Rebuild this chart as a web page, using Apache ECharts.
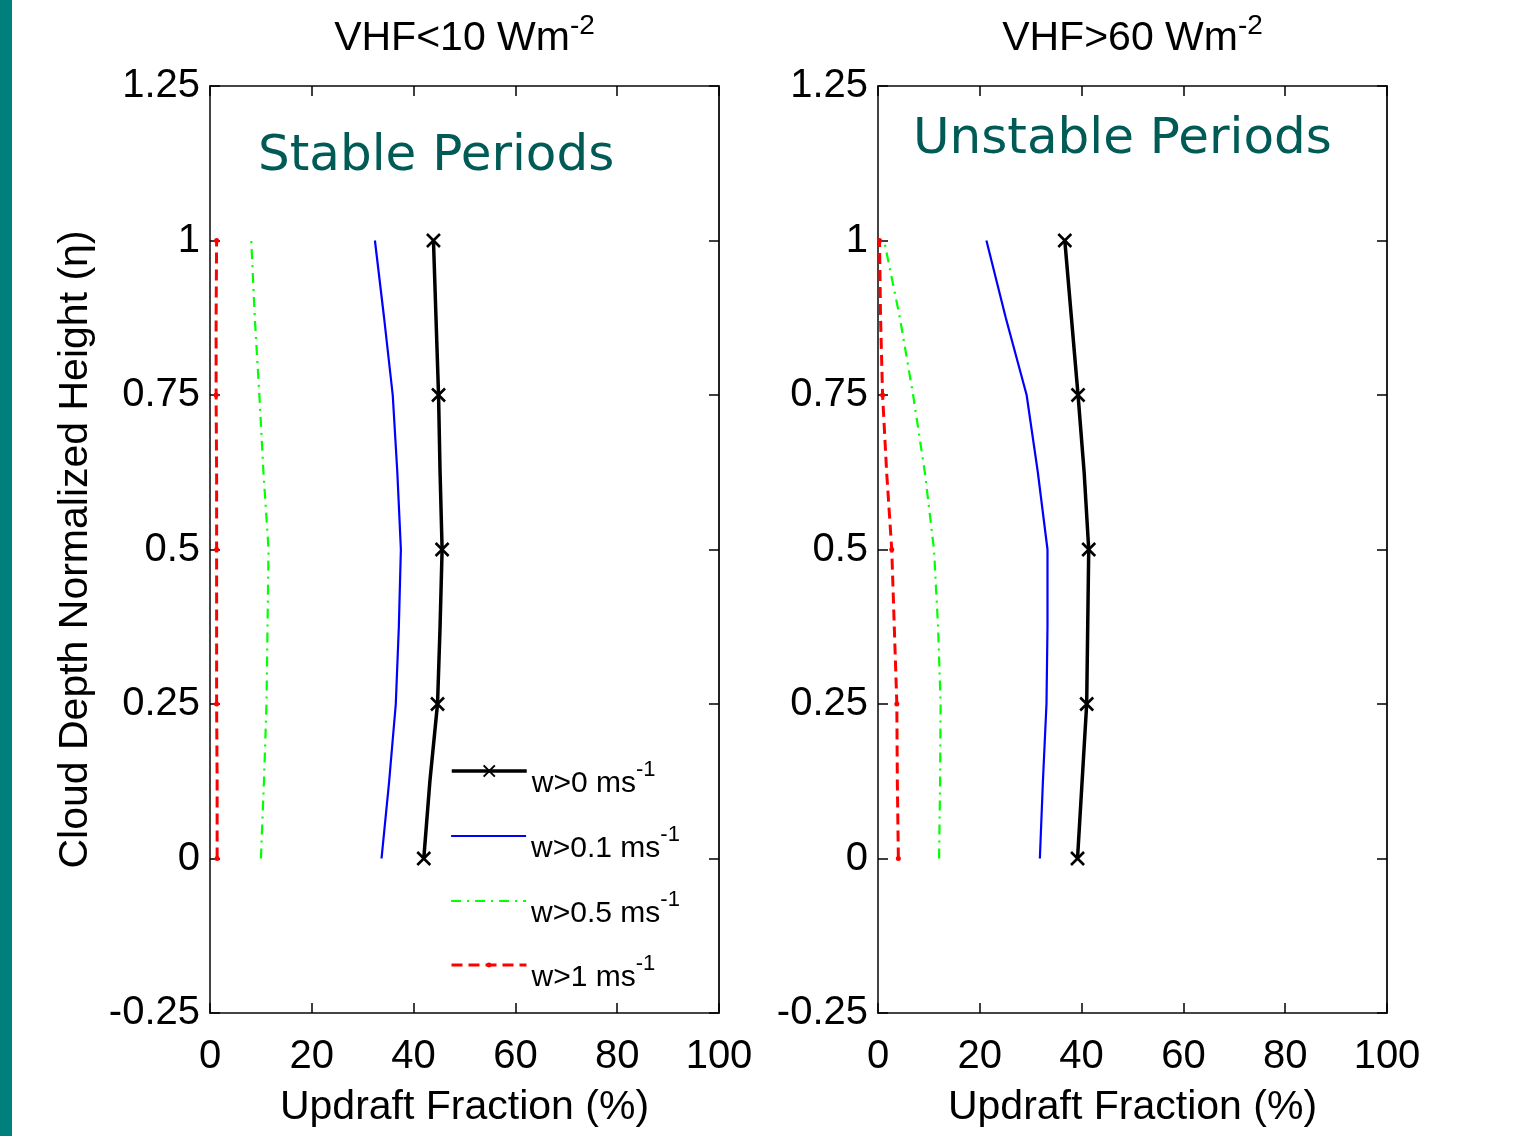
<!DOCTYPE html>
<html>
<head>
<meta charset="utf-8">
<script src="https://cdn.jsdelivr.net/npm/echarts@6/dist/echarts.min.js"></script>
<style>
  html, body { margin: 0; padding: 0; background: #fff; }
  #chart { width: 1523px; height: 1136px; }
</style>
</head>
<body>
<div id="chart"></div>
<script>
// Normalized cloud-depth levels (eta) at which the updraft fraction is sampled
const eta = [0, 0.125, 0.25, 0.375, 0.5, 0.625, 0.75, 0.875, 1];

// Stable periods (VHF < 10 W m^-2), updraft fraction in %
const stableW0  = [42.0, 43.2, 44.7, 45.2, 45.6, 45.2, 44.9, 44.4, 43.9];
const stableW01 = [33.7, 35.2, 36.5, 37.1, 37.5, 36.8, 35.9, 34.2, 32.4];
const stableW05 = [10.0, 10.6, 11.1, 11.3, 11.5, 10.5, 9.7, 8.8, 8.1];
const stableW1  = [1.4, 1.4, 1.3, 1.3, 1.3, 1.3, 1.2, 1.2, 1.3];

// Unstable periods (VHF > 60 W m^-2), updraft fraction in %
const unstableW0  = [39.2, 40.1, 41.0, 41.2, 41.4, 40.5, 39.3, 38.0, 36.7];
const unstableW01 = [31.8, 32.4, 33.1, 33.3, 33.3, 31.4, 29.2, 25.1, 21.3];
const unstableW05 = [12.0, 12.2, 12.3, 11.8, 11.0, 9.2, 6.9, 4.3, 1.2];
const unstableW1  = [4.0, 3.8, 3.7, 3.2, 2.7, 1.7, 0.9, 0.5, 0.3];

// Threshold names and panel titles
const thresholds = ['w>0', 'w>0.1', 'w>0.5', 'w>1'];
const panelTitles = ['VHF<10 Wm', 'VHF>60 Wm'];
const panelNotes = ['Stable Periods', 'Unstable Periods'];

const FONT = 'Liberation Sans, Arial, sans-serif';
const AXIS_COLOR = '#444';

// Markers appear only at every quarter of the cloud depth
function points(vals, markEvery) {
  return eta.map((h, i) => {
    const p = { value: [vals[i], h] };
    if (markEvery && i % 2 !== 0) p.symbol = 'none';
    return p;
  });
}

const styles = [
  { color: '#000000', width: 3.5, type: 'solid', symbol: 'path://M0,0L10,10M10,0L0,10', size: 13, mark: true, legendH: 14, showMark: true, legendOff: 0 },
  { color: '#0000ff', width: 2.2, type: 'solid', symbol: 'none', size: 0, mark: false, legendH: 14, showMark: false, legendOff: 0 },
  { color: '#00ff00', width: 2.2, type: [10, 6, 2, 6], symbol: 'none', size: 0, mark: false, legendH: 14, showMark: false, legendOff: 0 },
  { color: '#ff0000', width: 3, type: [11, 6], symbol: 'circle', size: 5, mark: true, legendH: 6, showMark: true, legendOff: -1 }
];

function makeSeries(gridIdx, sets) {
  return sets.map((vals, k) => {
    const st = styles[k];
    return {
      name: thresholds[k],
      type: 'line',
      xAxisIndex: gridIdx * 2,
      yAxisIndex: gridIdx * 2,
      data: points(vals, st.mark),
      symbol: st.symbol,
      symbolSize: st.size,
      showSymbol: st.symbol !== 'none',
      lineStyle: { color: st.color, width: st.width, type: st.type },
      itemStyle: { color: st.color, borderColor: st.color, borderWidth: k === 0 ? 2.6 : 0 },
      animation: false,
      silent: true,
      z: 10 - k
    };
  });
}

const gridLefts = [210, 878];
const grids = gridLefts.map(l => ({ left: l, top: 86, width: 509, height: 927, outerBoundsMode: 'none', containLabel: false }));

const xAxes = [];
const yAxes = [];
gridLefts.forEach((l, g) => {
  const tick = { show: true, inside: true, length: 10, lineStyle: { color: '#000', width: 1.5 } };
  xAxes.push({
    type: 'value', gridIndex: g, position: 'bottom', min: 0, max: 100, interval: 20,
    axisLine: { show: true, onZero: false, lineStyle: { color: AXIS_COLOR, width: 2 } },
    axisTick: tick, splitLine: { show: false },
    axisLabel: { show: true, fontFamily: FONT, fontSize: 40, color: '#000', margin: 24, hideOverlap: false, showMinLabel: true, showMaxLabel: true },
    name: 'Updraft Fraction (%)', nameLocation: 'middle', nameGap: 74,
    nameTextStyle: { fontFamily: FONT, fontSize: 41, color: '#000' }
  });
  xAxes.push({
    type: 'value', gridIndex: g, position: 'top', min: 0, max: 100, interval: 20,
    axisLine: { show: true, onZero: false, lineStyle: { color: AXIS_COLOR, width: 2 } },
    axisTick: tick, axisLabel: { show: false }, splitLine: { show: false }
  });
  yAxes.push({
    type: 'value', gridIndex: g, position: 'left', min: -0.25, max: 1.25, interval: 0.25,
    axisLine: { show: true, onZero: false, lineStyle: { color: AXIS_COLOR, width: 2 } },
    axisTick: tick, splitLine: { show: false },
    axisLabel: {
      show: true, fontFamily: FONT, fontSize: 40, color: '#000', margin: 10, hideOverlap: false,
      showMinLabel: true, showMaxLabel: true, padding: [6, 0, 0, 0],
      formatter: v => String(Number(v.toFixed(2)))
    },
    name: g === 0 ? 'Cloud Depth Normalized Height (\u03b7)' : '',
    nameLocation: 'middle', nameGap: 114, nameRotate: 90,
    nameTextStyle: { fontFamily: FONT, fontSize: 41, color: '#000' }
  });
  yAxes.push({
    type: 'value', gridIndex: g, position: 'right', min: -0.25, max: 1.25, interval: 0.25,
    axisLine: { show: true, onZero: false, lineStyle: { color: '#222', width: 2 } },
    axisTick: tick, axisLabel: { show: false }, splitLine: { show: false }
  });
});

const series = [].concat(
  makeSeries(0, [stableW0, stableW01, stableW05, stableW1]),
  makeSeries(1, [unstableW0, unstableW01, unstableW05, unstableW1])
);

// One legend block per threshold, stacked inside the stable panel
const legendRich = {
  b: { fontFamily: FONT, fontSize: 30, color: '#000', padding: [26, 0, 0, 0] },
  s: { fontFamily: FONT, fontSize: 22, color: '#000', padding: [0, 0, 2, 0] }
};
const legends = thresholds.map((t, k) => ({
  data: [t],
  orient: 'vertical',
  left: 450,
  top: 759 + k * 65 + styles[k].legendOff,
  itemWidth: 75,
  itemHeight: styles[k].legendH,
  itemGap: 0,
  padding: 0,
  selectedMode: false,
  itemStyle: styles[k].showMark ? {} : { opacity: 0 },
  lineStyle: { width: styles[k].width },
  formatter: n => `{b|${n} ms}{s|-1}`,
  textStyle: { rich: legendRich }
}));

const titleRich = {
  a: { fontFamily: FONT, fontSize: 41, color: '#000', padding: [14, 0, 0, 0] },
  s: { fontFamily: FONT, fontSize: 28, color: '#000', padding: [0, 0, 12, 0] }
};

const graphic = [
  { type: 'rect', left: 0, top: 0, shape: { width: 12, height: 1136 }, style: { fill: '#00807c' }, silent: true }
];
gridLefts.forEach((l, g) => {
  graphic.push({
    type: 'text', x: l + 254.5, y: 32,
    style: { text: `{a|${panelTitles[g]}}{s|-2}`, rich: titleRich, align: 'center', verticalAlign: 'middle' },
    silent: true
  });
});
graphic.push({
  type: 'text', x: 258, y: 157,
  style: { text: panelNotes[0], font: '50px "DejaVu Sans"', fill: '#005a55', verticalAlign: 'middle' }, silent: true
});
graphic.push({
  type: 'text', x: 913, y: 140,
  style: { text: panelNotes[1], font: '50px "DejaVu Sans"', fill: '#005a55', verticalAlign: 'middle' }, silent: true
});

const chart = echarts.init(document.getElementById('chart'), null, { renderer: 'canvas' });
chart.setOption({
  backgroundColor: '#ffffff',
  animation: false,
  grid: grids,
  xAxis: xAxes,
  yAxis: yAxes,
  legend: legends,
  series: series,
  graphic: graphic
});
</script>
</body>
</html>
